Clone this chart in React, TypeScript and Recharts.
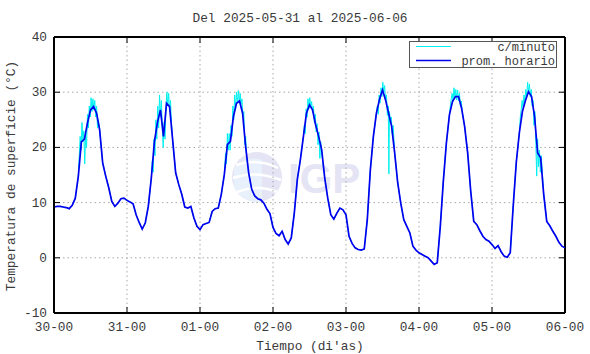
import { LineChart, Line, XAxis, YAxis, CartesianGrid, ReferenceLine, Legend } from 'recharts';

// eje x en horas desde 30-00
const dayLabels = ['30-00', '31-00', '01-00', '02-00', '03-00', '04-00', '05-00', '06-00'];
const dayTicks = [0, 24, 48, 72, 96, 120, 144, 168];
const tempTicks = [-10, 0, 10, 20, 30, 40];

// promedio horario (°C), una lectura por hora
const hourlyTemp = [
  9.2, 9.3, 9.3, 9.2, 9.1, 8.9, 9.5, 10.8, 14.8, 21.0, 21.5, 24.4, 26.8, 27.4, 26.2, 23.2, 17.2, 14.8, 12.7, 10.2, 9.3, 9.9, 10.7, 10.8,
  10.4, 10.1, 9.8, 7.8, 6.4, 5.2, 6.3, 9.3, 14.5, 21.0, 24.5, 26.8, 22.0, 28.0, 27.4, 21.4, 15.4, 13.3, 11.5, 9.2, 9.0, 9.3, 7.2, 5.7,
  5.1, 6.0, 6.2, 6.4, 8.4, 8.9, 9.0, 11.5, 15.1, 20.5, 21.1, 25.6, 28.0, 28.4, 26.2, 20.2, 15.4, 12.4, 11.2, 10.7, 10.5, 9.9, 8.8, 8.0,
  5.5, 4.4, 4.0, 4.8, 3.3, 2.5, 3.6, 8.1, 14.2, 17.8, 22.0, 26.2, 27.7, 26.8, 24.1, 22.0, 19.6, 14.5, 10.8, 7.8, 7.0, 8.1, 9.0, 8.7,
  7.8, 3.9, 2.6, 1.8, 1.5, 1.4, 1.6, 6.9, 15.9, 22.0, 26.2, 28.7, 30.4, 28.6, 26.2, 23.8, 19.0, 13.6, 9.9, 6.9, 5.7, 4.5, 2.1, 1.4,
  0.9, 0.6, 0.3, 0.0, -0.6, -1.2, -0.9, 5.7, 13.9, 20.8, 25.9, 28.3, 29.2, 29.2, 27.1, 23.8, 19.0, 12.1, 6.6, 6.0, 4.9, 3.9, 3.3, 3.0,
  2.4, 1.7, 2.2, 1.1, 0.3, 0.1, 0.9, 9.6, 17.4, 22.7, 26.5, 28.5, 30.1, 29.2, 25.6, 19.0, 18.1, 11.5, 6.6, 5.8, 4.8, 3.9, 2.8, 2.1, 1.8,
];

// lecturas por minuto alrededor del mediodía [hora, °C]
const minuteDay1: [number, number][] = [
  [8.3, 18.5], [8.6, 22], [8.9, 19.5], [9.2, 24.5], [9.5, 21], [9.8, 23], [10.1, 17], [10.4, 22.5], [10.7, 20], [11.0, 26],
  [11.3, 23.5], [11.6, 27.5], [11.9, 25.5], [12.2, 29], [12.5, 26.5], [12.8, 28.8], [13.1, 26.8], [13.4, 28.5], [13.7, 25.5],
  [14.0, 27.5], [14.3, 23.5], [14.6, 25],
];
const minuteDay2: [number, number][] = [
  [32.3, 17.5], [32.6, 15.5], [32.9, 21.5], [33.2, 18.5], [33.5, 25], [33.8, 21.5], [34.1, 27.5], [34.4, 23.5], [34.7, 29.5],
  [35.0, 25.5], [35.3, 28.5], [35.6, 23.5], [35.9, 20], [36.2, 24.5], [36.5, 21.5], [36.8, 27], [37.1, 30], [37.4, 27.5],
  [37.7, 29.8], [38.0, 26.5], [38.3, 28.5], [38.6, 24.5], [38.9, 22.5],
];
const minuteDay3: [number, number][] = [
  [56.4, 19], [56.7, 17], [57.0, 22.5], [57.3, 19.5], [57.6, 22.5], [57.9, 19.5], [58.2, 24], [58.5, 22], [58.8, 27.5],
  [59.1, 25], [59.4, 29.5], [59.7, 27], [60.0, 30], [60.3, 28], [60.6, 30.3], [60.9, 28], [61.2, 29.8], [61.5, 27.8],
  [61.8, 28.8], [62.1, 25.5], [62.4, 26.5], [62.7, 20.5], [63.0, 22], [63.3, 18.2],
];
const minuteDay4: [number, number][] = [
  [82.3, 24], [82.6, 22.5], [82.9, 27], [83.2, 25.5], [83.5, 28.8], [83.8, 27], [84.1, 29], [84.4, 27.2], [84.7, 28.3],
  [85.0, 26.3], [85.3, 27.5], [85.6, 24.5], [85.9, 26], [86.2, 22.8], [86.5, 24.3], [86.8, 20.5], [87.1, 22.8], [87.4, 18],
  [87.7, 21], [88.0, 19],
];
const minuteDay5: [number, number][] = [
  [106.3, 27.5], [106.6, 26], [106.9, 29.5], [107.2, 28], [107.5, 30.8], [107.8, 29.2], [108.1, 31.8], [108.4, 30],
  [108.7, 31.2], [109.0, 28.5], [109.3, 29.5], [109.6, 25.8], [109.9, 27.5], [110.1, 15.2], [110.3, 26.5], [110.6, 24.5],
  [110.9, 25.5], [111.2, 22.5], [111.5, 24],
];
const minuteDay6: [number, number][] = [
  [130.3, 27.5], [130.6, 28.8], [130.9, 29.8], [131.2, 28.3], [131.5, 30.8], [131.8, 29], [132.1, 30.5], [132.4, 28.6],
  [132.7, 30.4], [133.0, 28.4], [133.3, 29.8], [133.6, 27.6], [133.9, 28.4], [134.2, 26.5],
];
const minuteDay7: [number, number][] = [
  [153.3, 25.5], [153.6, 26.8], [153.9, 28.5], [154.2, 27.2], [154.5, 29.5], [154.8, 28.3], [155.1, 30.5], [155.4, 29.3],
  [155.7, 31.8], [156.0, 30], [156.3, 31.5], [156.6, 29.2], [156.9, 30.5], [157.2, 27.5], [157.5, 28.5], [157.8, 24],
  [158.1, 26.5], [158.4, 21], [158.7, 14.8], [159.0, 21.5], [159.3, 16.5], [159.6, 19.5], [159.9, 15.5], [160.2, 18.5],
];

const hourlyData = hourlyTemp.map((temp, hour) => ({ hour, temp }));

// la serie por minuto sigue al promedio de noche; de día usa las lecturas de arriba
const bursts = [minuteDay1, minuteDay2, minuteDay3, minuteDay4, minuteDay5, minuteDay6, minuteDay7];
const minuteData = [
  ...hourlyData.filter((p) => !bursts.some((b) => p.hour >= b[0][0] && p.hour <= b[b.length - 1][0])),
  ...bursts.flat().map(([hour, temp]) => ({ hour, temp })),
].sort((a, b) => a.hour - b.hour);

const PLOT = { left: 54, right: 565, top: 37, bottom: 313 };
const FONT = "'Liberation Mono', monospace";
const TEXT = '#3a3a3a';
const FS = 12.8;

const XTick = ({ x, payload }: any) => (
  <g>
    <line x1={x} x2={x} y1={PLOT.bottom} y2={PLOT.bottom - 6} stroke="#000" />
    <line x1={x} x2={x} y1={PLOT.top} y2={PLOT.top + 6} stroke="#000" />
    <text x={x} y={PLOT.bottom + 18} textAnchor="middle" fontFamily={FONT} fontSize={FS} fill={TEXT}>
      {dayLabels[dayTicks.indexOf(payload.value)]}
    </text>
  </g>
);

const YTick = ({ y, payload }: any) => (
  <g>
    <line x1={PLOT.left} x2={PLOT.left + 6} y1={y} y2={y} stroke="#000" />
    <line x1={PLOT.right} x2={PLOT.right - 6} y1={y} y2={y} stroke="#000" />
    <text x={PLOT.left - 7} y={y + 4} textAnchor="end" fontFamily={FONT} fontSize={FS} fill={TEXT}>
      {payload.value}
    </text>
  </g>
);

const LegendBox = () => (
  <svg width={148} height={28} style={{ display: 'block' }}>
    <rect x={0.5} y={0.5} width={147} height={26} fill="#fff" stroke="#555" />
    <line x1={7} x2={42} y1={5.5} y2={5.5} stroke="#00f0f0" />
    <text x={146} y={10} textAnchor="end" fontFamily={FONT} fontSize={12} fill={TEXT}>c/minuto</text>
    <line x1={7} x2={42} y1={19.5} y2={19.5} stroke="#0000ee" strokeWidth={1.5} />
    <text x={146} y={24} textAnchor="end" fontFamily={FONT} fontSize={12} fill={TEXT}>prom. horario</text>
  </svg>
);

export default function App() {
  return (
    <div style={{ position: 'fixed', left: 0, top: 0, width: 590, height: 354, background: '#fff' }}>
      <svg width={590} height={354} style={{ position: 'absolute', left: 0, top: 0 }}>
        {/* marca de agua */}
        <g opacity={0.9}>
          <circle cx={257} cy={177} r={25} fill="#e2e2f3" />
          <path d="M 234 186 A 25 25 0 0 0 262 202 L 262 160 A 25 25 0 0 0 234 168 Z" fill="#e6f0fb" />
          <path d="M 236 165 Q 258 158 278 168" stroke="#fff" strokeWidth={2.5} fill="none" />
          <path d="M 233 178 Q 256 170 281 180" stroke="#fff" strokeWidth={2.5} fill="none" />
          <path d="M 237 192 Q 258 184 277 192" stroke="#fff" strokeWidth={2.5} fill="none" />
          <text x={288} y={193} fontFamily="'Liberation Sans', Arial, sans-serif" fontWeight="bold" fontSize={42} fill="#e2e2f3">
            IGP
          </text>
        </g>
        <text x={300} y={22} textAnchor="middle" fontFamily={FONT} fontSize={FS} fill={TEXT}>
          Del 2025-05-31 al 2025-06-06
        </text>
        <text x={310} y={350} textAnchor="middle" fontFamily={FONT} fontSize={FS} fill={TEXT}>
          Tiempo (di'as)
        </text>
        <text
          x={15}
          y={176}
          transform="rotate(-90 15 176)"
          textAnchor="middle"
          fontFamily={FONT}
          fontSize={FS}
          fill={TEXT}
        >
          Temperatura de superficie (°C)
        </text>
      </svg>
      <div style={{ position: 'absolute', left: 0, top: 0 }}>
        <LineChart width={590} height={354} margin={{ top: 37, right: 25, bottom: 11, left: 0 }}>
          <CartesianGrid stroke="#a8a8a8" strokeDasharray="1.5 3" />
          <XAxis
            type="number"
            dataKey="hour"
            domain={[0, 168]}
            ticks={dayTicks}
            interval={0}
            height={30}
            tickLine={false}
            axisLine={{ stroke: '#000', strokeWidth: 2 }}
            tick={<XTick />}
            allowDataOverflow
          />
          <YAxis
            type="number"
            domain={[-10, 40]}
            ticks={tempTicks}
            interval={0}
            width={54}
            tickLine={false}
            axisLine={{ stroke: '#000', strokeWidth: 2 }}
            tick={<YTick />}
            allowDataOverflow
          />
          <ReferenceLine y={40} stroke="#000" strokeWidth={2} />
          <ReferenceLine x={168} stroke="#000" strokeWidth={2} />
          <Line
            data={minuteData}
            dataKey="temp"
            type="linear"
            stroke="#00f0f0"
            strokeWidth={1}
            dot={false}
            isAnimationActive={false}
          />
          <Line
            data={hourlyData}
            dataKey="temp"
            type="linear"
            stroke="#0000ee"
            strokeWidth={1.7}
            dot={false}
            isAnimationActive={false}
          />
          <Legend
            layout="vertical"
            align="center"
            verticalAlign="middle"
            wrapperStyle={{ left: 409, top: 41, width: 148, height: 28 }}
            content={<LegendBox />}
          />
        </LineChart>
      </div>
    </div>
  );
}
